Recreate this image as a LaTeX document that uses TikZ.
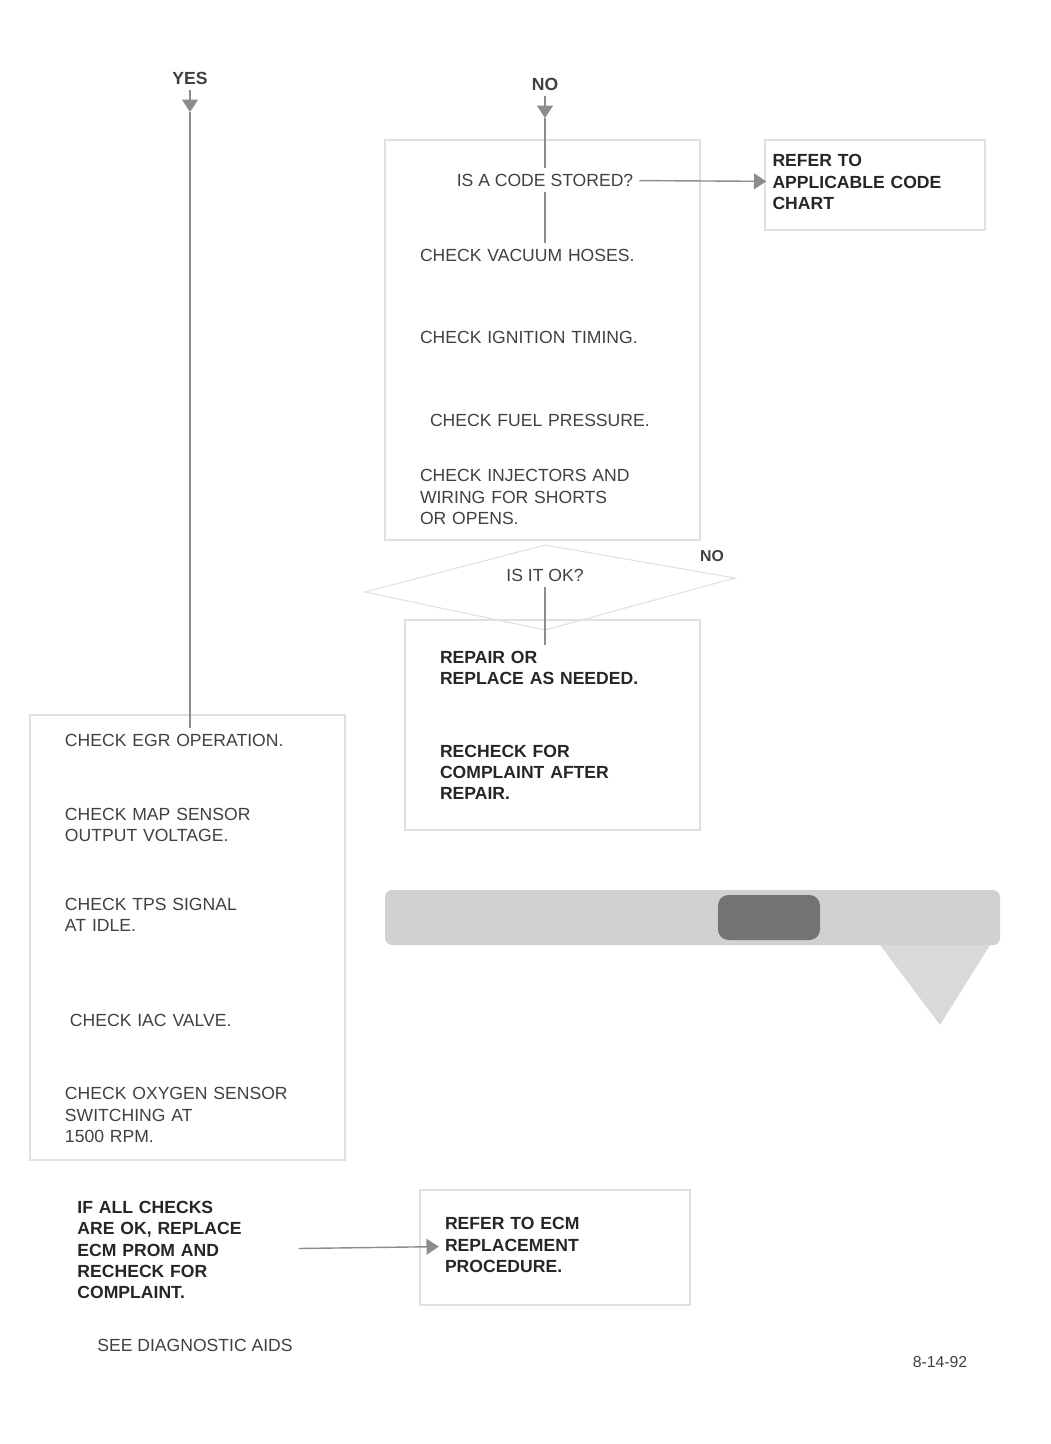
\documentclass[tikz,border=0pt]{standalone}
\usepackage{fontspec}
\setmainfont{Liberation Sans}
\usetikzlibrary{positioning,shapes.geometric,arrows.meta}
\begin{document}
\begin{tikzpicture}[x=0.2mm,y=-0.2mm,
  txt/.style={font=\normalsize, text=black!75, align=center},
  stepbox/.style={font=\normalsize, text=black!75, align=left, text width=5cm},
  boldbox/.style={font=\normalsize\bfseries, text=black!85, align=left, text width=4.6cm},
  frame/.style={draw=black!12, line width=0.6pt},
  link/.style={draw=black!45, line width=0.8pt},
  tip/.style={-{Triangle[length=7pt,width=9pt]}}]
\useasboundingbox (0,0) rectangle (1050,1444);
% headings
\node[txt, font=\bfseries] (yes) at (190,78){YES};
\node[txt, font=\bfseries] (no) at (545,84){NO};
% frames
\draw[frame] (385,140) rectangle (700,540);
\draw[frame] (405,620) rectangle (700,830);
\draw[frame] (30,715) rectangle (345,1160);
\draw[frame] (765,140) rectangle (985,230);
\draw[frame] (420,1190) rectangle (690,1305);
\draw[frame] (365,592) -- (545,545) -- (735,578) -- (545,630) -- cycle;
% right column
\node[txt] (rA) at (545,180){IS A CODE STORED?};
\node[boldbox, text width=3.9cm] (rAx) at (870,182){REFER TO\\ APPLICABLE CODE\\ CHART};
\node[stepbox] (rB) at (545,255){CHECK VACUUM HOSES.};
\node[stepbox] (rC) at (545,337){CHECK IGNITION TIMING.};
\node[stepbox] (rD) at (555,420){CHECK FUEL PRESSURE.};
\node[stepbox] (rE) at (545,497){CHECK INJECTORS AND\\ WIRING FOR SHORTS\\ OR OPENS.};
\node[txt] (rF) at (545,575){IS IT OK?};
\node[txt, font=\small\bfseries] (rFno) at (712,556){NO};
\node[boldbox] (rG) at (555,668){REPAIR OR\\ REPLACE AS NEEDED.};
\node[boldbox] (rH) at (555,772){RECHECK FOR\\ COMPLAINT AFTER\\ REPAIR.};
% left column
\node[stepbox] (lA) at (190,740){CHECK EGR OPERATION.};
\node[stepbox] (lB) at (190,825){CHECK MAP SENSOR\\ OUTPUT VOLTAGE.};
\node[stepbox] (lC) at (190,915){CHECK TPS SIGNAL\\ AT IDLE.};
\node[stepbox] (lD) at (195,1020){CHECK IAC VALVE.};
\node[stepbox] (lE) at (190,1115){CHECK OXYGEN SENSOR\\ SWITCHING AT\\ 1500 RPM.};
\node[boldbox, text width=4.3cm] (lF) at (185,1250){IF ALL CHECKS\\ ARE OK, REPLACE\\ ECM PROM AND\\ RECHECK FOR\\ COMPLAINT.};
\node[boldbox] (lG) at (560,1245){REFER TO ECM\\ REPLACEMENT\\ PROCEDURE.};
\node[txt] (note) at (195,1345){SEE DIAGNOSTIC AIDS};
\node[txt, font=\small] (figid) at (940,1362){8-14-92};
% banner
\fill[black!18, rounded corners=4pt] (385,890) rectangle (1000,945);
\fill[black!55, rounded corners=6pt] (718,895) rectangle (820,940);
\fill[black!15] (880,945) -- (990,945) -- (940,1025) -- cycle;
% connectors
\draw[link, tip] (yes) -- (190,112);
\draw[link, tip] (no) -- (545,118);
\draw[link] (190,112) -- (lA);
\draw[link] (545,118) -- (rA);
\draw[link, tip] (rA) -- (rAx);
\draw[link] (rA) -- (rB);
\draw[link] (rF) -- (rF |- rG.north);
\draw[link, tip] (lF) -- (lG);
\end{tikzpicture}
\end{document}
